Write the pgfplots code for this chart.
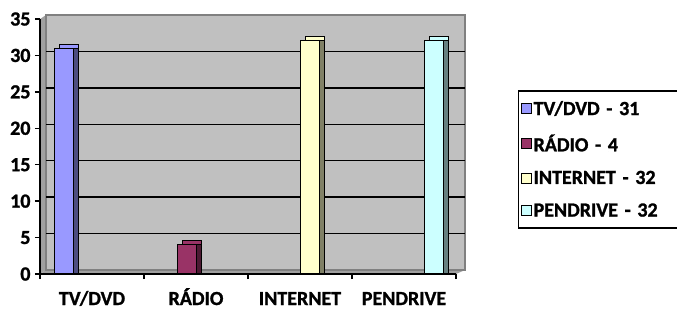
\documentclass[border=0pt]{standalone}
\usepackage{fontspec}
\setmainfont{Carlito}[BoldFont={Carlito Bold}, BoldFeatures={FakeBold=1.2}]
\usepackage{pgfplots}
\pgfplotsset{compat=1.18}
\definecolor{wall}{HTML}{C0C0C0}
\definecolor{side}{HTML}{A0A0A0}
\definecolor{tvf}{HTML}{9999FF}\definecolor{tvs}{HTML}{4D4D80}
\definecolor{raf}{HTML}{993366}\definecolor{ras}{HTML}{4D1A33}
\definecolor{inf}{HTML}{FFFFCC}\definecolor{ins}{HTML}{808066}
\definecolor{pef}{HTML}{CCFFFF}\definecolor{pes}{HTML}{668080}
\newcommand{\lblfont}{\fontsize{20}{23}\selectfont\bfseries}
\begin{document}
\begin{tikzpicture}[x=1pt,y=1pt]
\begin{axis}[
  at={(40pt,35pt)}, anchor=south west,
  scale only axis, width=416pt, height=255pt,
  xmin=0, xmax=4, ymin=0, ymax=35,
  axis lines*=left,
  axis line style={black, line width=1.4pt},
  ytick={0,5,...,35},
  xtick={0,1,2,3,4}, xticklabels={},
  extra x ticks={0.5,1.5,2.5,3.5},
  extra x tick labels={TV/DVD,RÁDIO,INTERNET,PENDRIVE},
  extra x tick style={major tick length=0pt, tick label style={anchor=base, yshift=-31pt}},
  tick align=outside, major tick length=5pt,
  tick style={black, line width=1.4pt},
  tick label style={font=\lblfont},
  yticklabel style={xshift=-1pt},
  /pgf/number format/assume math mode=true,
  axis on top,
  clip=false,
  ybar, bar width=19pt, bar shift=0pt,
  legend style={at={(1.149,0.72)}, anchor=north west, draw=black, line width=1.2pt,
     font=\lblfont, row sep=14pt, inner xsep=2pt, inner ysep=8pt,
     nodes={text width=145pt, align=left}},
  legend cell align=left,
  legend image code/.code={\draw[#1, line width=1pt] (0pt,-5pt) rectangle (10pt,5pt);},
]
\fill[side] (axis cs:0,0) -- ([shift={(6pt,4pt)}]axis cs:0,0) -- ([shift={(6pt,4pt)}]axis cs:0,35) -- (axis cs:0,35) -- cycle;
\fill[side] (axis cs:0,0) -- (axis cs:4,0) -- ([shift={(9pt,4pt)}]axis cs:4,0) -- ([shift={(6pt,4pt)}]axis cs:0,0) -- cycle;
\filldraw[fill=wall, draw=gray, line width=1.2pt] ([shift={(6pt,4pt)}]axis cs:0,0) rectangle ([shift={(9pt,4pt)}]axis cs:4,35);
\pgfplotsinvokeforeach{5,10,15,20,25,30}{
  \draw[black, line width=1.4pt] ([shift={(6pt,4pt)}]axis cs:0,#1) -- ([shift={(9pt,4pt)}]axis cs:4,#1);
}
% TV/DVD
\addplot[fill=tvf, draw=black, line width=1pt, xshift=5pt, yshift=4pt, forget plot] coordinates {(0.23,31)};
\addplot[fill=tvs, draw=black, line width=1pt, xshift=5pt, forget plot] coordinates {(0.23,31)};
\addplot[fill=tvf, draw=black, line width=1pt] coordinates {(0.23,31)};
\addlegendentry{TV/DVD - 31}
% RADIO
\addplot[fill=raf, draw=black, line width=1pt, xshift=5pt, yshift=4pt, forget plot] coordinates {(1.41,4)};
\addplot[fill=ras, draw=black, line width=1pt, xshift=5pt, forget plot] coordinates {(1.41,4)};
\addplot[fill=raf, draw=black, line width=1pt] coordinates {(1.41,4)};
\addlegendentry{RÁDIO - 4}
% INTERNET
\addplot[fill=inf, draw=black, line width=1pt, xshift=5pt, yshift=4pt, forget plot] coordinates {(2.60,32)};
\addplot[fill=ins, draw=black, line width=1pt, xshift=5pt, forget plot] coordinates {(2.60,32)};
\addplot[fill=inf, draw=black, line width=1pt] coordinates {(2.60,32)};
\addlegendentry{INTERNET - 32}
% PENDRIVE
\addplot[fill=pef, draw=black, line width=1pt, xshift=5pt, yshift=4pt, forget plot] coordinates {(3.79,32)};
\addplot[fill=pes, draw=black, line width=1pt, xshift=5pt, forget plot] coordinates {(3.79,32)};
\addplot[fill=pef, draw=black, line width=1pt] coordinates {(3.79,32)};
\addlegendentry{PENDRIVE - 32}
\end{axis}
\pgfresetboundingbox
\path (0,0) rectangle (677,309);
\end{tikzpicture}
\end{document}
